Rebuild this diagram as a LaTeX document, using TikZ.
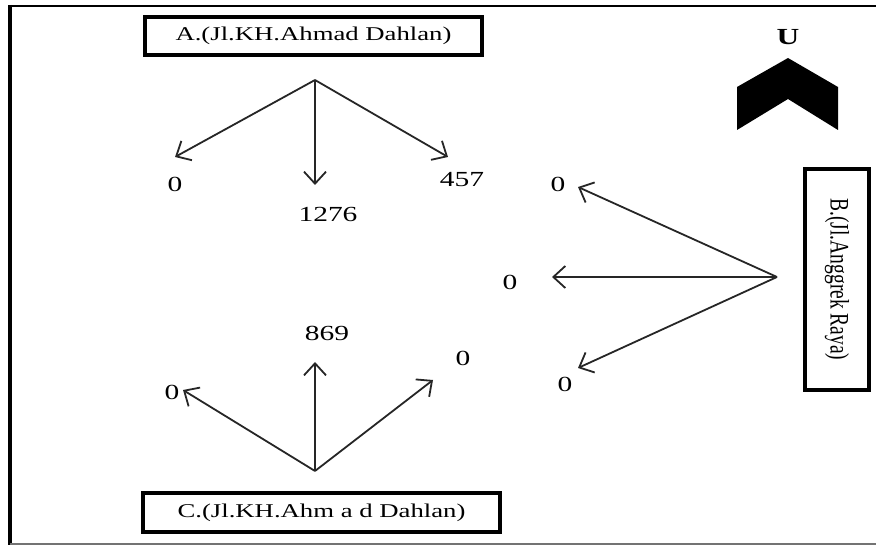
\documentclass[tikz,border=0pt]{standalone}
\usepackage{fontspec}
\setmainfont{Liberation Serif}
\usepackage{graphicx}
\usetikzlibrary{arrows.meta}

\tikzset{
  streetbox/.style={draw=black, line width=3.2pt, fill=white, inner sep=0pt},
  flow/.style={draw=black!85, line width=1.8pt,
    -{Straight Barb[length=12pt, width=22pt, line width=1.8pt]}},
  count/.style={font=\fontsize{21.5}{22}\selectfont, text=black, inner sep=0pt},
  wide/.style={font=\fontsize{19.5}{20}\selectfont, text=black}
}
\newcommand{\stretchx}[1]{\scalebox{1.37}[1]{#1}}

\begin{document}
\begin{tikzpicture}[x=1pt, y=-1pt]
  \useasboundingbox (0,0) rectangle (876,545);

  % outer frame (open on the right)
  \draw[black, line width=2.2pt] (876,6) -- (10,6);
  \draw[black, line width=3.8pt] (10,5) -- (10,545);
  \draw[black!55, line width=2pt] (10,543.5) -- (876,543.5);

  % street boxes
  \node[streetbox, minimum width=337pt, minimum height=38pt, wide] (A) at (313.5,36)
    {\stretchx{A.(Jl.KH.Ahmad Dahlan)}};
  \node[streetbox, minimum width=357pt, minimum height=39pt, wide] (C) at (321.5,512.5)
    {\stretchx{C.(Jl.KH.Ahm a d Dahlan)}};
  \node[streetbox, minimum width=64pt, minimum height=221pt, wide] (B) at (837,279.5)
    {\stretchx{\rotatebox{-90}{B.(Jl.Anggrek Raya)}}};

  % north marker
  \fill[black] (788,58) -- (838,87) -- (838,130) -- (788,99) -- (737,130) -- (737,87) -- cycle;
  \node[font=\fontsize{23}{23}\selectfont\bfseries, inner sep=0pt] (north) at (788,37) {\stretchx{U}};

  % movements leaving approach A
  \coordinate (oA) at (315,80);
  \coordinate (aL) at (175,157);
  \coordinate (aS) at (315,185);
  \coordinate (aR) at (448,157);
  \draw[flow] (oA) -- (aL);
  \draw[flow] (oA) -- (aS);
  \draw[flow] (oA) -- (aR);
  \node[count] (nAL) at (175,184) {\stretchx{0}};
  \node[count] (nAS) at (328,214) {\stretchx{1276}};
  \node[count] (nAR) at (462,180) {\stretchx{457}};

  % movements leaving approach B
  \coordinate (oB) at (777,277);
  \coordinate (bU) at (578,187);
  \coordinate (bS) at (552,277);
  \coordinate (bD) at (578,368);
  \draw[flow] (oB) -- (bU);
  \draw[flow] (oB) -- (bS);
  \draw[flow] (oB) -- (bD);
  \node[count] (nBU) at (558,184) {\stretchx{0}};
  \node[count] (nBS) at (510,282) {\stretchx{0}};
  \node[count] (nBD) at (565,384) {\stretchx{0}};

  % movements leaving approach C
  \coordinate (oC) at (315,471);
  \coordinate (cL) at (183,390);
  \coordinate (cS) at (315,362);
  \coordinate (cR) at (433,380);
  \draw[flow] (oC) -- (cL);
  \draw[flow] (oC) -- (cS);
  \draw[flow] (oC) -- (cR);
  \node[count] (nCL) at (172,392) {\stretchx{0}};
  \node[count] (nCS) at (327,333) {\stretchx{869}};
  \node[count] (nCR) at (463,358) {\stretchx{0}};
\end{tikzpicture}
\end{document}
